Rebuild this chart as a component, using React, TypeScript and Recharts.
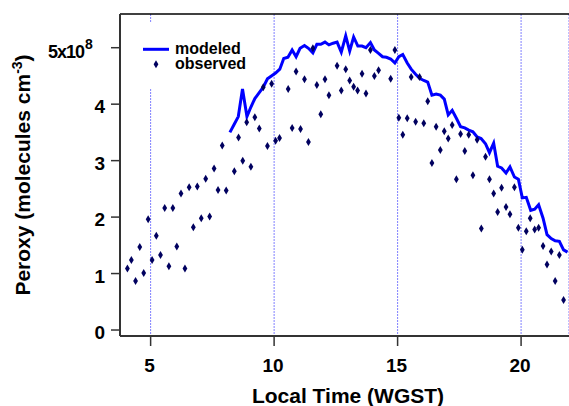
import { CartesianGrid, ComposedChart, Line, ReferenceLine, Scatter, XAxis, YAxis } from "recharts";

document.body.style.margin = "0";
document.body.style.overflow = "hidden";

// observed peroxy radicals, local time (h) and 1e8 molecules cm-3
const OBS_T = [
  4.06, 4.22, 4.39, 4.56, 4.72, 4.9, 5.06, 5.23, 5.4, 5.57, 5.74, 5.9, 6.06, 6.23, 6.39, 6.56, 6.73, 6.89,
  7.05, 7.23, 7.39, 7.57, 7.73, 7.9, 8.06, 8.39, 8.56, 8.73, 8.89, 9.06, 9.22, 9.4, 9.56, 9.73, 9.9, 10.06,
  10.22, 10.57, 10.73, 10.89, 11.07, 11.23, 11.39, 11.57, 11.73, 11.89, 12.06, 12.22, 12.55, 12.72, 12.9,
  13.06, 13.22, 13.38, 13.56, 13.72, 13.9, 14.06, 14.23, 14.72, 14.89, 15.05, 15.21, 15.39, 15.55, 15.73,
  15.89, 16.06, 16.22, 16.39, 16.56, 16.73, 16.89, 17.05, 17.21, 17.38, 17.55, 17.72, 17.88, 18.05, 18.22,
  18.39, 18.56, 18.72, 18.89, 19.05, 19.21, 19.39, 19.55, 19.73, 19.89, 20.05, 20.21, 20.37, 20.55, 20.71,
  20.89, 21.05, 21.22, 21.38, 21.55, 21.72,
];
const OBS_V = [
  1.09, 1.24, 0.87, 1.47, 1.01, 1.96, 1.24, 1.67, 1.33, 2.16, 1.13, 2.16, 1.48, 2.42, 1.09, 2.53, 1.82, 2.54,
  1.98, 2.68, 2.01, 2.86, 2.48, 3.27, 2.47, 2.81, 3.41, 3.0, 3.68, 2.89, 3.77, 3.57, 4.3, 3.26, 4.36, 3.35,
  3.4, 4.27, 3.58, 4.58, 3.56, 4.44, 3.33, 4.99, 4.34, 3.82, 4.44, 4.16, 4.68, 4.24, 4.62,
  4.42, 4.31, 4.24, 4.54, 4.19, 4.96, 4.5, 4.6, 4.45, 4.96, 3.76, 3.46, 3.75, 4.48, 3.69,
  4.48, 3.66, 4.05, 2.96, 3.6, 3.19, 3.52, 3.39, 3.63, 2.67, 3.47, 3.17, 3.46, 2.74, 3.37,
  1.8, 3.07, 2.67, 2.42, 2.09, 2.52, 2.18, 2.05, 2.53, 1.81, 1.42, 1.75, 1.98, 1.78, 1.81,
  1.49, 1.16, 1.39, 0.87, 1.33, 0.53,
];

// modeled
const MOD_T = [
  8.21, 8.38, 8.55, 8.72, 8.9, 9.06, 9.22, 9.39, 9.56, 9.73, 9.89, 10.06, 10.23, 10.39, 10.56, 10.73, 10.89,
  11.05, 11.23, 11.39, 11.57, 11.73, 11.89, 12.06, 12.22, 12.39, 12.55, 12.72, 12.9, 13.06, 13.22, 13.39,
  13.56, 13.72, 13.9, 14.06, 14.23, 14.39, 14.55, 14.72, 14.89, 15.05, 15.21, 15.39, 15.55, 15.73, 15.89,
  16.06, 16.22, 16.39, 16.56, 16.73, 16.89, 17.05, 17.21, 17.38, 17.55, 17.72, 17.88, 18.05, 18.22, 18.38,
  18.56, 18.72, 18.89, 19.05, 19.21, 19.39, 19.55, 19.73, 19.89, 20.05, 20.21, 20.39, 20.55, 20.71, 20.89,
  21.05, 21.22, 21.38, 21.55, 21.72, 21.88,
];
const MOD_V = [
  3.5, 3.64, 3.78, 4.27, 3.78, 3.95, 4.1, 4.2, 4.3, 4.45, 4.5, 4.55, 4.62, 4.81, 4.83, 4.96, 4.84,
  4.99, 5.04, 4.99, 4.91, 5.06, 5.06, 5.1, 5.05, 5.08, 5.1, 4.92, 5.21, 4.94, 5.19, 5.03,
  5.03, 5.0, 5.09, 4.96, 4.9, 4.84, 4.83, 4.8, 4.73, 4.84, 4.88, 4.73, 4.62, 4.53, 4.46,
  4.42, 4.39, 4.16, 4.18, 4.16, 4.09, 3.81, 3.89, 3.75, 3.6, 3.58, 3.54, 3.51, 3.42, 3.39,
  3.3, 3.14, 3.31, 2.9, 2.87, 2.78, 2.89, 2.71, 2.67, 2.34, 2.35, 2.12, 2.14, 2.22, 1.98,
  1.69, 1.62, 1.58, 1.57, 1.42, 1.38,
];

const X_TICKS = [5, 10, 15, 20];
const Y_TICKS = [0, 1, 2, 3, 4, 5];
const X_DOMAIN: [number, number] = [3.76, 21.94];
const Y_DOMAIN: [number, number] = [-0.106, 5.597];

const observed = OBS_T.map((t, i) => ({ t, v: OBS_V[i] }));
const modeled = MOD_T.map((t, i) => ({ t, v: MOD_V[i] }));

const FONT = "'Liberation Sans', Arial, Helvetica, sans-serif";
const LINE_BLUE = "#0000ff";
const DOT = "#00005f";

const Diamond = (props: any) => {
  const { cx, cy } = props;
  if (cx == null || cy == null) return null;
  return <polygon points={`${cx},${cy - 4} ${cx + 2.4},${cy} ${cx},${cy + 4} ${cx - 2.4},${cy}`} fill={DOT} />;
};

const XTick = ({ x, payload }: any) => (
  <text x={x - 1} y={372} textAnchor="middle" fontFamily={FONT} fontWeight="bold" fontSize={19} fill="#000">
    {payload.value}
  </text>
);

const YTick = ({ x, y, payload }: any) => {
  if (payload.value === 5) {
    // 5x10^8 label, set further left like the original
    return (
      <text x={48} y={y + 10} fontFamily={FONT} fontWeight="bold" fill="#000">
        <tspan fontSize={18} letterSpacing={-1}>5x10</tspan>
        <tspan dx={1} dy={-8.5} fontSize={14}>8</tspan>
      </text>
    );
  }
  return (
    <text x={x} y={y + 9} textAnchor="end" fontFamily={FONT} fontWeight="bold" fontSize={19} fill="#000">
      {payload.value}
    </text>
  );
};

export default function App() {
  return (
    <div style={{ position: "relative", width: 569, height: 406, background: "#fff", overflow: "hidden" }}>
      <ComposedChart width={569} height={406} margin={{ top: 14, right: 0, bottom: 0, left: 0 }}>
        <CartesianGrid horizontal={false} stroke="#8080ff" strokeDasharray="2 1" strokeWidth={1} />
        <XAxis
          type="number"
          dataKey="t"
          domain={X_DOMAIN}
          allowDataOverflow
          ticks={X_TICKS}
          height={70}
          tickSize={10}
          tick={<XTick />}
          axisLine={{ stroke: "#333", strokeWidth: 2 }}
          tickLine={{ stroke: "#333", strokeWidth: 1.5 }}
          label={() => (
            <text x={348} y={403} textAnchor="middle" fontFamily={FONT} fontWeight="bold" fontSize={21} fill="#000">
              Local Time (WGST)
            </text>
          )}
        />
        <YAxis
          type="number"
          dataKey="v"
          domain={Y_DOMAIN}
          allowDataOverflow
          ticks={Y_TICKS}
          width={120}
          tickSize={9}
          tickMargin={6}
          tick={<YTick />}
          axisLine={{ stroke: "#333", strokeWidth: 2 }}
          tickLine={{ stroke: "#333", strokeWidth: 1.5 }}
          label={() => (
            <text
              x={30}
              y={175}
              transform="rotate(-90 30 175)"
              textAnchor="middle"
              fontFamily={FONT}
              fontWeight="bold"
              fontSize={21}
              fill="#000"
            >
              Peroxy (molecules cm<tspan dy={-8} fontSize={14}>-3</tspan>
              <tspan dy={8}>)</tspan>
            </text>
          )}
        />
        <ReferenceLine y={Y_DOMAIN[1]} stroke="#000" strokeWidth={1.5} />
        <Line
          data={modeled}
          dataKey="v"
          stroke={LINE_BLUE}
          strokeWidth={3}
          dot={false}
          activeDot={false}
          isAnimationActive={false}
        />
        <Scatter data={observed} dataKey="v" shape={<Diamond />} isAnimationActive={false} />
      </ComposedChart>
      <svg
        width={120}
        height={65}
        style={{ position: "absolute", left: 130, top: 23, background: "#fff" }}
      >
        <line x1={13} y1={26.3} x2={39} y2={26.3} stroke={LINE_BLUE} strokeWidth={3} />
        <text x={45} y={31} fontFamily={FONT} fontWeight="bold" fontSize={16} fill="#000">
          modeled
        </text>
        <polygon points="26,37.3 28.4,41.3 26,45.3 23.6,41.3" fill={DOT} />
        <text x={45} y={46} fontFamily={FONT} fontWeight="bold" fontSize={16} fill="#000">
          observed
        </text>
      </svg>
    </div>
  );
}
